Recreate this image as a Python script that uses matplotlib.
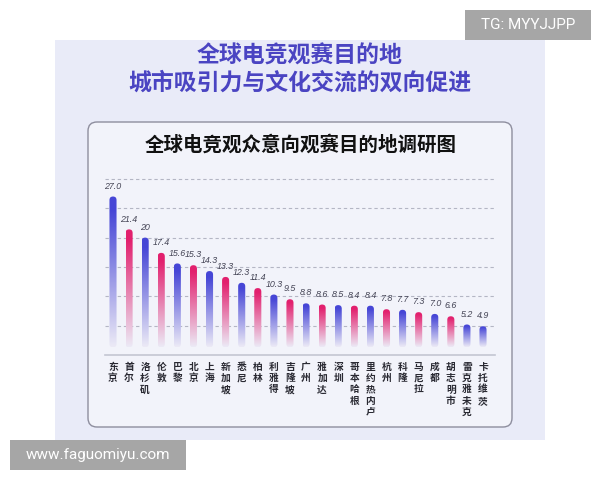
import numpy as np
import matplotlib
matplotlib.use('Agg')
import matplotlib.pyplot as plt
from matplotlib.patches import FancyBboxPatch, Rectangle
from matplotlib.colors import to_rgb

plt.rcParams['font.family'] = ['Noto Sans CJK SC', 'DejaVu Sans']

cities = ['东京', '首尔', '洛杉矶', '伦敦', '巴黎', '北京', '上海', '新加坡', '悉尼', '柏林',
          '利雅得', '吉隆坡', '广州', '雅加达', '深圳', '哥本哈根', '里约热内卢', '杭州', '科隆',
          '马尼拉', '成都', '胡志明市', '雷克雅未克', '卡托维茨']
values = [27.0, 21.4, 20, 17.4, 15.6, 15.3, 14.3, 13.3, 12.3, 11.4, 10.3, 9.5, 8.8, 8.6,
          8.5, 8.4, 8.4, 7.8, 7.7, 7.3, 7.0, 6.6, 5.2, 4.9]
labels = ['27.0', '21.4', '20', '17.4', '15.6', '15.3', '14.3', '13.3', '12.3', '11.4', '10.3',
          '9.5', '8.8', '8.6', '8.5', '8.4', '8.4', '7.8', '7.7', '7.3', '7.0', '6.6', '5.2', '4.9']
kinds = ['b', 'p'] * 11 + ['b', 'b']

blue = '#4646d6'
pink = '#e2206e'
pale = '#eceaf6'

W, H = 600, 480
fig = plt.figure(figsize=(6, 4.8), dpi=100)
fig.patch.set_facecolor('white')

# background layer in pixel coords
bg = fig.add_axes([0, 0, 1, 1])
bg.set_xlim(0, W)
bg.set_ylim(H, 0)
bg.axis('off')

bg.add_patch(Rectangle((55, 40), 490, 400, facecolor='#e9ebf8', edgecolor='none'))
bg.add_patch(FancyBboxPatch((88, 122), 424, 305, boxstyle='round,pad=0,rounding_size=9',
                            facecolor='#f2f3fa', edgecolor='#8e8e9e', lw=1.0))

bg.text(300, 56, '全球电竞观赛目的地', ha='center', va='center', fontsize=16.5,
        fontweight='bold', color='#4a44c2')
bg.text(300, 83, '城市吸引力与文化交流的双向促进', ha='center', va='center', fontsize=16.5,
        fontweight='bold', color='#4a44c2')
bg.text(301, 145, '全球电竞观众意向观赛目的地调研图', ha='center', va='center', fontsize=14,
        fontweight='bold', color='#111111')

# watermarks
bg.add_patch(Rectangle((465, 10), 126, 30, facecolor='#a6a6a6', edgecolor='none'))
bg.text(528, 25, 'TG: MYYJJPP', ha='center', va='center', fontsize=11,
        color='white', family=['Roboto', 'DejaVu Sans'])
bg.add_patch(Rectangle((10, 440), 176, 30, facecolor='#a6a6a6', edgecolor='none'))
bg.text(98, 455, 'www.faguomiyu.com', ha='center', va='center', fontsize=11,
        color='white', family=['Roboto', 'DejaVu Sans'])

# chart axes
px_x0, px_x1 = 105, 495
px_y0, px_y1 = 355, 175
ax = fig.add_axes([px_x0 / W, (H - px_y0) / H, (px_x1 - px_x0) / W, (px_y0 - px_y1) / H])
ax.patch.set_alpha(0)
n = len(values)
step = 16.09
xl = (-8 / step, n - 1 + 12 / step)
yl = (0, (px_y0 - px_y1) / 5.87)
ax.set_xlim(*xl)
ax.set_ylim(*yl)
for s in ['top', 'right', 'left']:
    ax.spines[s].set_visible(False)
ax.spines['bottom'].set_color('#c4c6d2')
ax.spines['bottom'].set_linewidth(1.2)
ax.set_xticks([])
ax.set_yticks([])
for g in [5, 10, 15, 20, 25, 30]:
    ax.axhline(g, color='#b4b6c4', lw=0.8, ls=(0, (3, 2.5)), zorder=0)

bw = 0.44
base = 1.3
aspect = step / 5.87
for i, (v, k) in enumerate(zip(values, kinds)):
    top = np.array(to_rgb(blue if k == 'b' else pink))
    bot = np.array(to_rgb(pale))
    t = np.linspace(0, 1, 200)[:, None]  # 0 bottom .. 1 top
    w = np.clip(t * 1.1, 0, 1)
    col = bot + (top - bot) * w
    img = col[:, None, :]
    patch = FancyBboxPatch((i - bw / 2, base), bw, v - base,
                           boxstyle='round,pad=0,rounding_size=%f' % (bw / 2),
                           mutation_aspect=aspect, facecolor='none', edgecolor='none',
                           transform=ax.transData)
    ax.add_patch(patch)
    im = ax.imshow(img, extent=(i - bw / 2, i + bw / 2, base, v), origin='lower',
                   aspect='auto', zorder=2)
    im.set_clip_path(patch)
    ax.text(i, v + 1.0, labels[i], ha='center', va='bottom', fontsize=6.4,
            style='italic', color='#444455', family=['Liberation Sans'])
    ax.text(i, -1.2, '\n'.join(cities[i]), ha='center', va='top', fontsize=7,
            fontweight='bold', color='#2a2a33', linespacing=1.15, clip_on=False)

ax.set_xlim(*xl)
ax.set_ylim(*yl)

fig.savefig('out.png', dpi=100)
